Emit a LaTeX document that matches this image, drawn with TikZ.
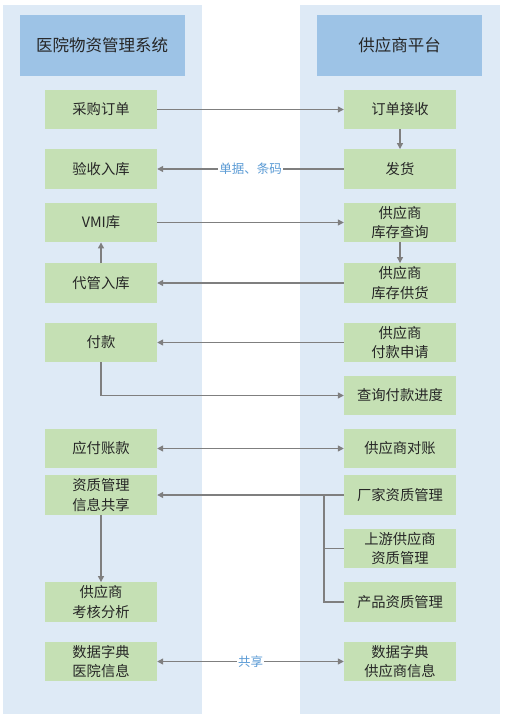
\documentclass[tikz,border=0pt]{standalone}
\usepackage{fontspec}
\setmainfont{Noto Sans CJK SC}
\usetikzlibrary{arrows.meta}
\definecolor{panel}{HTML}{DEEAF6}
\definecolor{header}{HTML}{9DC3E6}
\definecolor{boxg}{HTML}{C5E0B4}
\definecolor{arr}{HTML}{7F7F7F}
\definecolor{lbl}{HTML}{5B9BD5}
\definecolor{txt}{HTML}{262626}
\tikzset{
  hdr/.style={fill=header, minimum width=165pt, minimum height=61pt, inner sep=0pt, font=\fontsize{16.5}{20}\selectfont, text=txt},
  gbox/.style={fill=boxg, minimum width=112pt, minimum height=39.5pt, inner sep=0pt, align=center, font=\fontsize{14.3}{19.5}\selectfont, text=txt},
  conn/.style={draw=arr, line width=1.3pt, -{Triangle[length=6pt,width=6pt]}},
  conn2/.style={draw=arr, line width=1.3pt, {Triangle[length=6pt,width=6pt]}-{Triangle[length=6pt,width=6pt]}},
  plain/.style={draw=arr, line width=1.3pt},
  lab/.style={fill=white, inner sep=1pt, text=lbl, font=\fontsize{12.5}{14}\selectfont}
}
\begin{document}
\begin{tikzpicture}[x=1pt,y=-1pt]
\useasboundingbox (0,0) rectangle (506,719);
\fill[panel] (3,5) rectangle (202,714);
\fill[panel] (300,5) rectangle (500,714);
\node[hdr] (hL) at (102,45.5) {医院物资管理系统};
\node[hdr] (hR) at (399.5,45.5) {供应商平台};
% left column
\node[gbox] (a1) at (101,109.5) {采购订单};
\node[gbox] (a2) at (101,169) {验收入库};
\node[gbox] (a3) at (101,222.5) {VMI库};
\node[gbox] (a4) at (101,283) {代管入库};
\node[gbox] (a5) at (101,342.5) {付款};
\node[gbox] (a7) at (101,448.5) {应付账款};
\node[gbox] (a8) at (101,495) {资质管理\\信息共享};
\node[gbox] (a9) at (101,602) {供应商\\考核分析};
\node[gbox] (a10) at (101,661.5) {数据字典\\医院信息};
% right column
\node[gbox] (b1) at (400,109.5) {订单接收};
\node[gbox] (b2) at (400,169) {发货};
\node[gbox] (b3) at (400,222.5) {供应商\\库存查询};
\node[gbox] (b4) at (400,283) {供应商\\库存供货};
\node[gbox] (b5) at (400,342.5) {供应商\\付款申请};
\node[gbox] (b6) at (400,395.5) {查询付款进度};
\node[gbox] (b7) at (400,448.5) {供应商对账};
\node[gbox] (b8) at (400,495) {厂家资质管理};
\node[gbox] (b9) at (400,548.5) {上游供应商\\资质管理};
\node[gbox] (b10) at (400,602) {产品资质管理};
\node[gbox] (b11) at (400,661.5) {数据字典\\供应商信息};
% connectors
\draw[conn] (a1) -- (b1);
\draw[conn] (b1) -- (b2);
\draw[conn] (b2) -- node[lab] {单据、条码} (a2);
\draw[conn] (a3) -- (b3);
\draw[conn] (b3) -- (b4);
\draw[conn] (b4) -- (a4);
\draw[conn] (a4) -- (a3);
\draw[conn] (b5) -- (a5);
\draw[conn] (a5.south) |- (b6.west);
\draw[conn2] (a7) -- (b7);
\draw[conn] (b8) -- (a8);
\coordinate (br) at (324,495);
\draw[plain] (br) |- (b10.west);
\draw[plain] (br |- b9.west) -- (b9.west);
\draw[conn] (a8) -- (a9);
\draw[conn2] (a10) -- node[lab] {共享} (b11);
\end{tikzpicture}
\end{document}
